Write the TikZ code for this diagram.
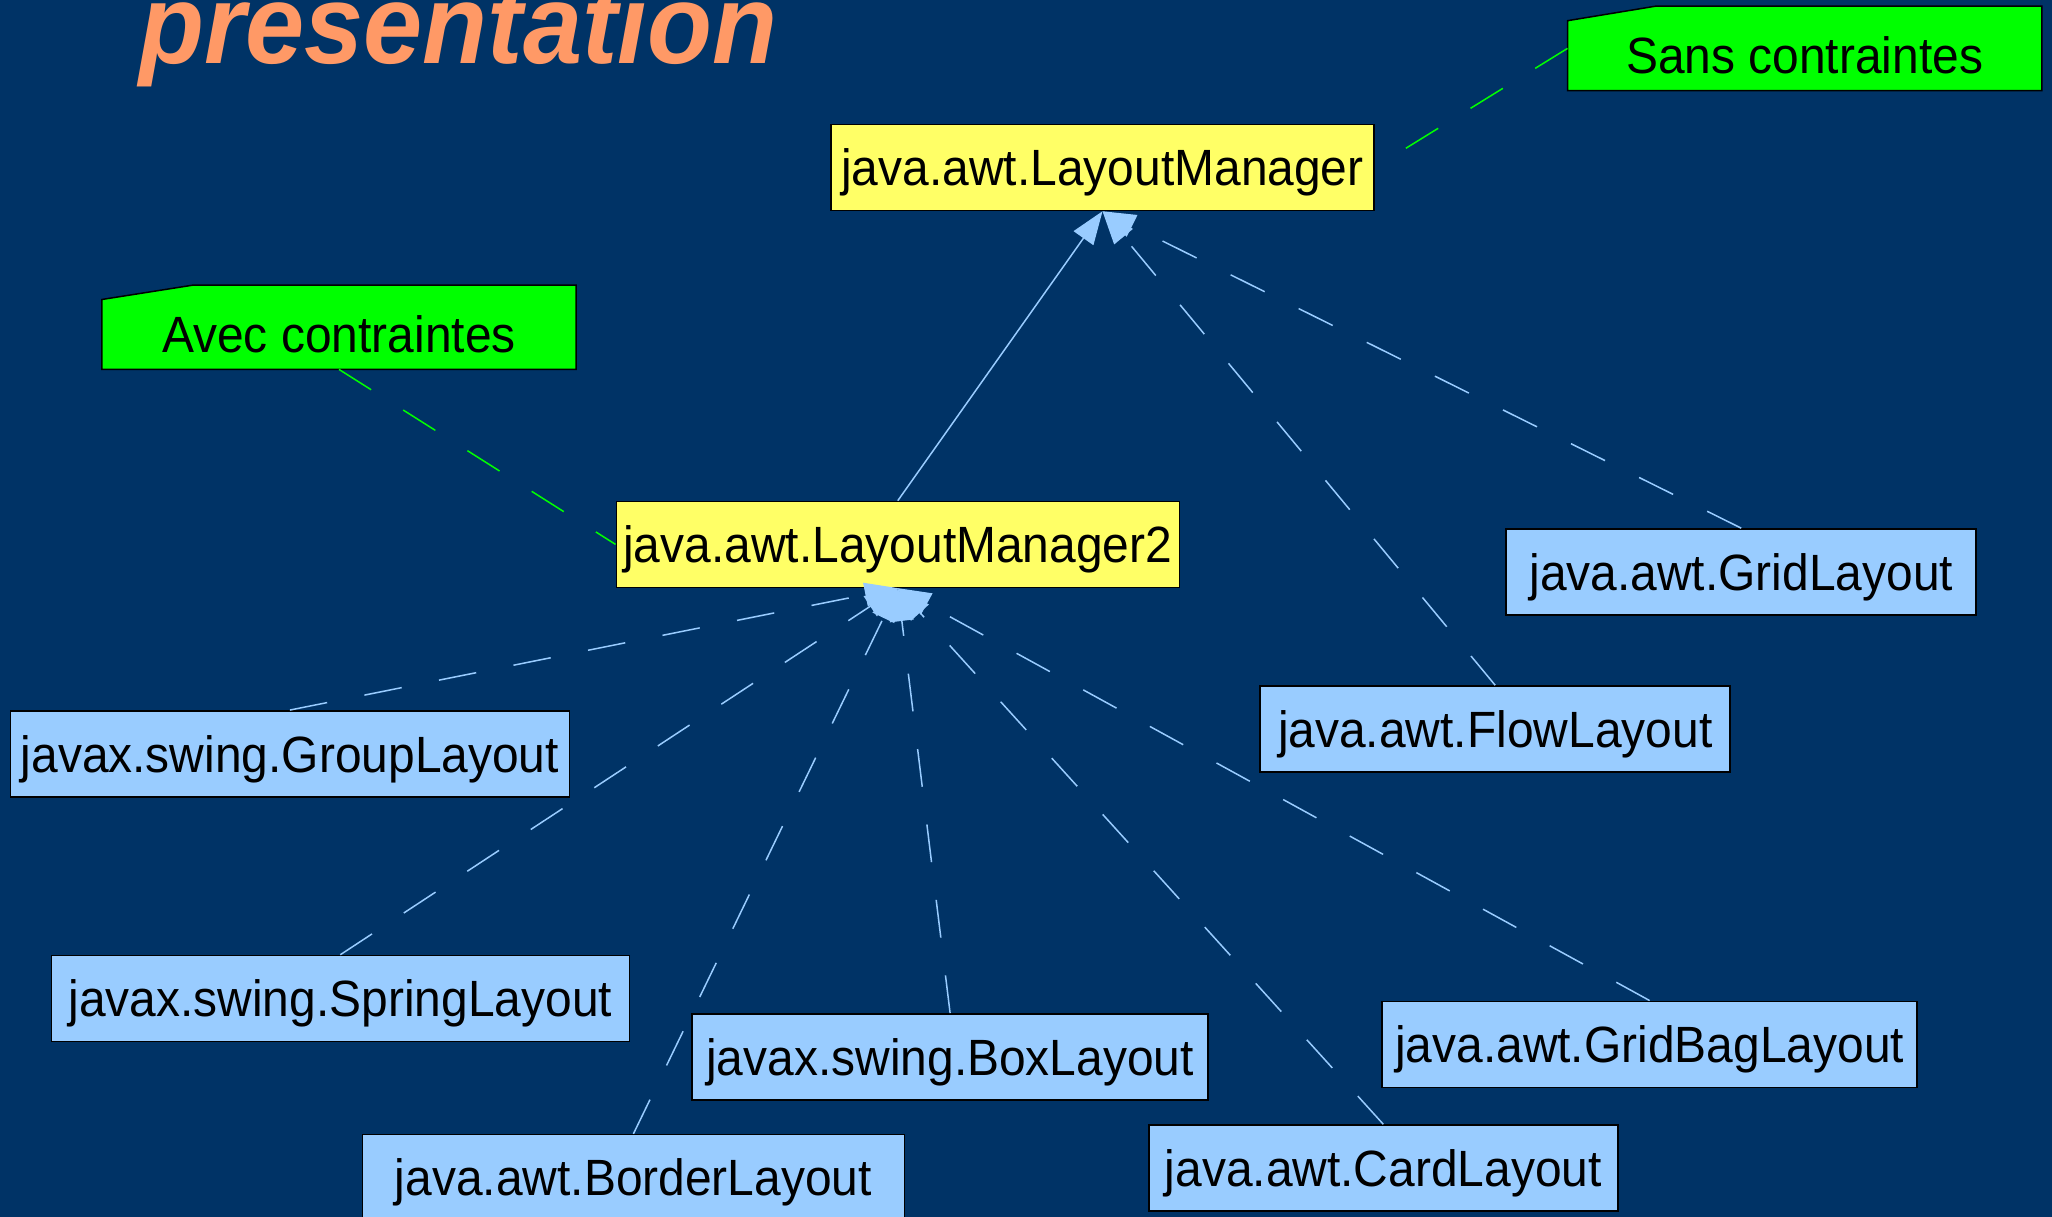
\documentclass[tikz,border=0pt]{standalone}
\usepackage{fontspec}
\setmainfont[FakeStretch=0.94]{Liberation Sans}
\usepackage{tikz}
\usetikzlibrary{arrows.meta, backgrounds}
\definecolor{navy}{rgb}{0.0, 0.2, 0.4}
\definecolor{salmon}{rgb}{1.0, 0.6, 0.4}
\definecolor{paleyellow}{rgb}{1.0, 1.0, 0.4}
\definecolor{paleblue}{rgb}{0.6, 0.8, 1.0}
\definecolor{notegreen}{rgb}{0.0, 1.0, 0.0}

\begin{document}
\begin{tikzpicture}[x=1pt, y=-1pt]
    \tikzstyle{box_style} = [draw=black, line width=1.5pt, inner sep=0pt, minimum height=86pt, text height=36.5pt, text depth=0pt, font=\fontsize{51}{60}\selectfont]
    \tikzstyle{iface_style} = [box_style, fill=paleyellow]
    \tikzstyle{class_style} = [box_style, fill=paleblue]
    \tikzstyle{note_style} = [inner sep=0pt, minimum width=474pt, minimum height=84pt, text height=50pt, text depth=0pt, font=\fontsize{51}{60}\selectfont]
    \tikzstyle{extends_style} = [-{Triangle[length=33pt, width=24pt]}, line width=1.5pt, paleblue]
    \tikzstyle{impl_style} = [extends_style, dash pattern=on 38pt off 38pt]
    \tikzstyle{note_link_style} = [line width=1.5pt, notegreen, dash pattern=on 38pt off 38pt]

    \useasboundingbox (0,0) rectangle (2052,1217);

    \node[anchor=base west, text=salmon, font=\fontsize{113}{120}\selectfont\bfseries\itshape] (title) at (136,64) {présentation};

    % interfaces
    \node[iface_style, minimum width=543pt] (lm) at (1102.5,167.5) {java.awt.LayoutManager};
    \node[iface_style, minimum width=563pt] (lm2) at (897.8,544.4) {java.awt.LayoutManager2};

    % classes
    \node[class_style, minimum width=470pt] (grid) at (1741.2,571.9) {java.awt.GridLayout};
    \node[class_style, minimum width=470pt] (flow) at (1495.2,729) {java.awt.FlowLayout};
    \node[class_style, minimum width=559pt] (group) at (289.9,753.8) {javax.swing.GroupLayout};
    \node[class_style, minimum width=578pt] (spring) at (340.3,998.5) {javax.swing.SpringLayout};
    \node[class_style, minimum width=516pt] (boxlay) at (950.1,1056.8) {javax.swing.BoxLayout};
    \node[class_style, minimum width=542pt] (border) at (633.4,1177.6) {java.awt.BorderLayout};
    \node[class_style, minimum width=469pt] (card) at (1383.3,1168) {java.awt.CardLayout};
    \node[class_style, minimum width=535pt] (gridbag) at (1649.6,1044.3) {java.awt.GridBagLayout};

    % notes
    \node[note_style] (avec) at (339,327.2) {Avec contraintes};
    \node[note_style] (sans) at (1804.7,48.4) {Sans contraintes};

    \begin{scope}[on background layer]
      \fill[navy] (0,0) rectangle (2052,1217);
      \filldraw[fill=notegreen, draw=black, line width=1.5pt] (avec.south west) -- (avec.south east) -- (avec.north east)
        -- ([xshift=92pt]avec.north west) -- ([yshift=-14.5pt]avec.north west) -- cycle;
      \filldraw[fill=notegreen, draw=black, line width=1.5pt] (sans.south west) -- (sans.south east) -- (sans.north east)
        -- ([xshift=88pt]sans.north west) -- ([yshift=-14.5pt]sans.north west) -- cycle;
    \end{scope}

    \draw[extends_style] (lm2.north) -- (lm.south);
    \draw[impl_style] (flow.north) -- (lm.south);
    \draw[impl_style] (grid.north) -- (lm.south);

    \draw[impl_style] (group.north) -- (lm2.south);
    \draw[impl_style] (spring.north) -- (lm2.south);
    \draw[impl_style] (border.north) -- (lm2.south);
    \draw[impl_style] (boxlay.north) -- (lm2.south);
    \draw[impl_style] (card.north) -- (lm2.south);
    \draw[impl_style] (gridbag.north) -- (lm2.south);

    \draw[note_link_style] (avec.south) -- (lm2.west);
    \draw[note_link_style] (sans.west) -- (lm.east);
\end{tikzpicture}
\end{document}
